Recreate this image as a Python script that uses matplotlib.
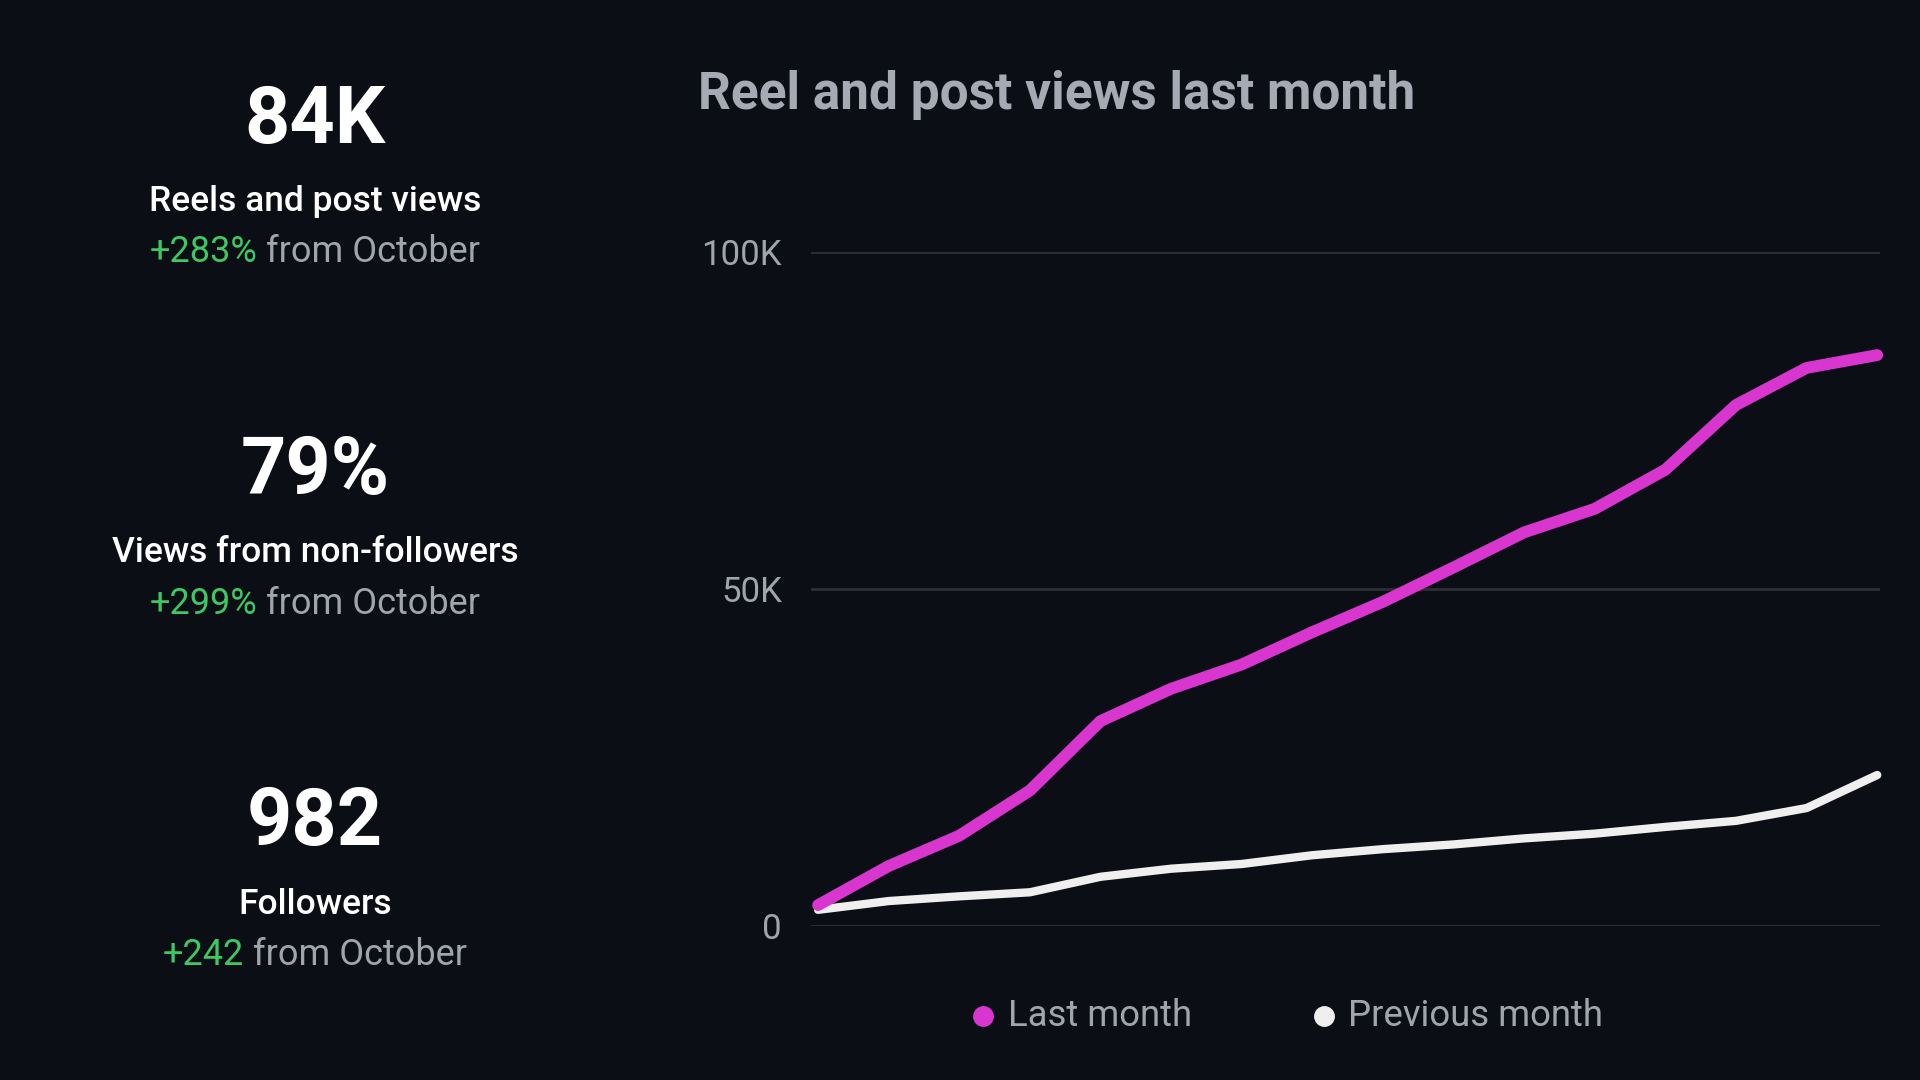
import numpy as np
import matplotlib
matplotlib.use("Agg")
import matplotlib.pyplot as plt
from matplotlib.lines import Line2D
from matplotlib.ticker import FuncFormatter

plt.rcParams['font.family'] = ['Roboto', 'DejaVu Sans']

# data (thousands of views, every other day)
last_month = [3.1, 8.9, 13.4, 20.1, 30.4, 35.2, 38.8, 43.6, 48.1, 53.2,
              58.4, 61.9, 67.7, 77.3, 82.8, 84.7]
prev_month = [2.4, 3.7, 4.4, 5.0, 7.3, 8.5, 9.2, 10.5, 11.4, 12.1,
              13.0, 13.7, 14.7, 15.6, 17.5, 22.4]
y_ticks = [0, 50, 100]
series_names = ["Last month", "Previous month"]

stat_values = ["84K", "79%", "982"]
stat_labels = ["Reels and post views", "Views from non-followers", "Followers"]
stat_changes = ["+283%", "+299%", "+242"]
stat_suffix = " from October"

bg = '#0b0e14'
magenta = '#d936d0'
white = '#efefef'
gray = '#a0a4ab'
green = '#3cc963'
grid_col = '#2c2f35'

fig = plt.figure(figsize=(19.2, 10.8), dpi=100, facecolor=bg)
ax = fig.add_axes([0.4224, 0.1426, 0.5568, 0.6241], facecolor=bg)

x = np.arange(len(last_month))
ax.plot(x, prev_month, color=white, lw=6, solid_capstyle='round',
        solid_joinstyle='round', clip_on=False, zorder=3)
ax.plot(x, last_month, color=magenta, lw=8.5, solid_capstyle='round',
        solid_joinstyle='round', clip_on=False, zorder=4)

ax.set_xlim(-0.1, len(x) - 1 + 0.04)
ax.set_ylim(0, 100)
ax.set_yticks(y_ticks)
ax.yaxis.set_major_formatter(FuncFormatter(lambda v, p: "0" if v == 0 else f"{int(v)}K"))
ax.tick_params(axis='y', length=0, pad=21, labelsize=25, labelcolor=gray)
ax.set_xticks([])
ax.grid(axis='y', color=grid_col, lw=2)
ax.set_axisbelow(True)
for s in ax.spines.values():
    s.set_visible(False)

fig.text(698 / 1920, 1 - 95 / 1080, "Reel and post views last month", color='#a6aab4',
         fontsize=37, fontweight='bold', ha='left', va='center')

# legend
leg_y = 1 - 1016 / 1080
for cx, tx, col, name in [(983, 1008, magenta, series_names[0]),
                          (1324, 1348, white, series_names[1])]:
    fig.add_artist(Line2D([cx / 1920], [leg_y], marker='o', markersize=14, color=col,
                          linestyle='none', transform=fig.transFigure))
    fig.text(tx / 1920, leg_y, name, color=gray, fontsize=26.3, ha='left', va='center')

# left-hand stats
renderer = fig.canvas.get_renderer()
cx = 315 / 1920
block_y = [121, 473, 824]
for i in range(3):
    y0 = block_y[i]
    fig.text(cx, 1 - y0 / 1080, stat_values[i], color='white', fontsize=57,
             fontweight='bold', ha='center', va='center')
    fig.text(cx, 1 - (y0 + 80) / 1080, stat_labels[i], color='white', fontsize=25.5,
             fontweight='medium', ha='center', va='center')
    t1 = fig.text(0, 1 - (y0 + 131) / 1080, stat_changes[i], color=green, fontsize=26,
                  ha='left', va='center')
    t2 = fig.text(0, 1 - (y0 + 131) / 1080, stat_suffix, color=gray, fontsize=26,
                  ha='left', va='center')
    w1 = t1.get_window_extent(renderer).width
    w2 = t2.get_window_extent(renderer).width
    start = cx * 1920 - (w1 + w2) / 2
    t1.set_x(start / 1920)
    t2.set_x((start + w1) / 1920)

fig.savefig("out.png", dpi=100, facecolor=bg)
